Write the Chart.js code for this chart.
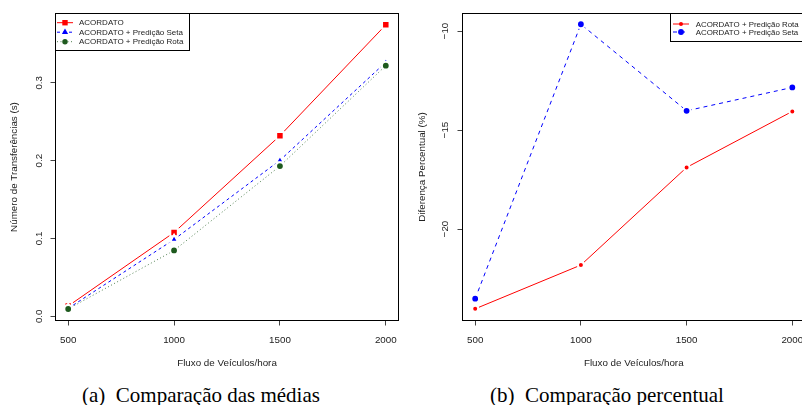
<!DOCTYPE html>
<html>
<head>
<meta charset="utf-8">
<script src="https://cdn.jsdelivr.net/npm/chart.js@4/dist/chart.umd.min.js"></script>
<style>
  html, body { margin: 0; padding: 0; background: #fff; }
  body { width: 802px; height: 405px; overflow: hidden; position: relative; }
  .plot { position: absolute; top: 0; height: 375px; }
  #medias { left: 0; width: 400px; }
  #percentual { left: 400px; width: 420px; }
  .caption {
    position: absolute; top: 384px; width: 400px; text-align: center;
    font-family: "Liberation Serif", "Times New Roman", serif; font-size: 21px;
    line-height: 22px; color: #000; white-space: pre;
  }
</style>
</head>
<body>
<div class="plot" id="medias"><canvas id="c1" width="400" height="375"></canvas></div>
<div class="plot" id="percentual"><canvas id="c2" width="420" height="375"></canvas></div>
<div class="caption" style="left:1px">(a)  Comparação das médias</div>
<div class="caption" style="left:407px">(b)  Comparação percentual</div>
<script>
// fluxo de veículos (eixo x, ambos os gráficos)
const fluxo = [500, 1000, 1500, 2000];

// (a) número médio de transferências
const mediaAcordato = [0.0132, 0.1077, 0.232, 0.3744];
const mediaSeta = [0.0102, 0.0987, 0.2004, 0.3264];
const mediaRota = [0.0094, 0.0846, 0.193, 0.322];
const ticksMedia = [0, 0.1, 0.2, 0.3];
const labelsMedia = ['0.0', '0.1', '0.2', '0.3'];

// (b) diferença percentual em relação ao ACORDATO
const difRota = [-24.03, -21.82, -16.89, -14.06];
const difSeta = [-23.52, -9.66, -14.03, -12.85];
const ticksDif = [-20, -15, -10];
const labelsDif = ['\u221220', '\u221215', '\u221210'];

const FONT = 'Liberation Sans, Arial, sans-serif';
const pts = (ys) => fluxo.map((x, i) => ({ x, y: ys[i] }));

function marker(ctx, style, x, y, r, color) {
  ctx.save();
  ctx.fillStyle = color;
  ctx.beginPath();
  if (style === 'rect') {
    const s = r * Math.SQRT1_2;
    ctx.rect(x - s, y - s, 2 * s, 2 * s);
  } else if (style === 'triangle') {
    ctx.moveTo(x, y - r);
    ctx.lineTo(x + r * 0.866, y + r * 0.5);
    ctx.lineTo(x - r * 0.866, y + r * 0.5);
    ctx.closePath();
  } else {
    ctx.arc(x, y, r, 0, Math.PI * 2);
  }
  ctx.fill();
  ctx.restore();
}

// box around the plot, tick labels (y rotated, R style) and the legend
const rBox = {
  id: 'rBox',
  afterDatasetsDraw(chart, args, o) {
    const { ctx, chartArea: a } = chart;
    const xs = chart.scales.x;
    const ys = chart.scales.y;
    ctx.save();
    ctx.strokeStyle = '#000';
    ctx.lineWidth = 1;
    ctx.strokeRect(a.left, a.top, a.right - a.left, a.bottom - a.top);

    ctx.fillStyle = '#222';
    ctx.font = o.tickSize + 'px ' + FONT;
    ctx.textAlign = 'center';
    ctx.textBaseline = 'alphabetic';
    fluxo.forEach((v) => {
      ctx.fillText(String(v), xs.getPixelForValue(v), o.labelY);
    });
    ctx.textBaseline = 'middle';
    o.yTicks.forEach((v, i) => {
      ctx.save();
      ctx.translate(o.labelX, ys.getPixelForValue(v));
      ctx.rotate(-Math.PI / 2);
      ctx.fillText(o.yLabels[i], 0, 0);
      ctx.restore();
    });

    const L = o.legend;
    ctx.fillStyle = '#fff';
    ctx.fillRect(L.x, L.y, L.w, L.h);
    ctx.strokeRect(L.x, L.y, L.w, L.h);
    ctx.font = L.size + 'px ' + FONT;
    ctx.textAlign = 'left';
    L.order.forEach((di, row) => {
      const ds = chart.data.datasets[di];
      const y = L.row0 + row * L.rowH;
      ctx.save();
      ctx.strokeStyle = ds.borderColor;
      ctx.lineWidth = 1;
      ctx.setLineDash(ds.borderDash || []);
      ctx.beginPath();
      ctx.moveTo(L.s0, y);
      ctx.lineTo(L.s1, y);
      ctx.stroke();
      ctx.restore();
      marker(ctx, ds.pointStyle, (L.s0 + L.s1) / 2, y, L.mr * ds.legendScale, ds.pointBackgroundColor);
      ctx.fillStyle = '#222';
      ctx.fillText(ds.label, L.tx, y + 0.5);
    });
    ctx.restore();
  }
};

function axes(xmin, xmax, ymin, ymax, yTitle, yWidth, yTitlePad) {
  return {
    x: {
      type: 'linear', min: xmin, max: xmax,
      afterBuildTicks: (s) => { s.ticks = fluxo.map(v => ({ value: v })); },
      afterFit: (s) => { s.height = 54.5; },
      grid: { drawOnChartArea: false, drawTicks: true, tickLength: 5, color: '#444' },
      border: { display: false },
      ticks: { display: false },
      title: { display: true, text: 'Fluxo de Veículos/hora', color: '#222',
               font: { family: FONT, size: 9.8 }, padding: { top: 0, bottom: 6.2 } }
    },
    y: {
      type: 'linear', min: ymin, max: ymax,
      afterBuildTicks: (s) => { s.ticks = s.options.rTicks.map(v => ({ value: v })); },
      afterFit: (s) => { s.width = yWidth; },
      grid: { drawOnChartArea: false, drawTicks: true, tickLength: 5, color: '#444' },
      border: { display: false },
      ticks: { display: false },
      title: { display: true, text: yTitle, color: '#222',
               font: { family: FONT, size: 9.8 }, padding: { top: yTitlePad, bottom: 0 } }
    }
  };
}

const common = {
  responsive: false,
  animation: false,
  events: [],
  plugins: { legend: { display: false }, tooltip: { enabled: false } }
};

// (a) Comparação das médias
const s1 = axes(440, 2060, -0.0054, 0.389, 'Número de Transferências (s)', 55.5, 8.2);
s1.y.rTicks = ticksMedia;
new Chart(document.getElementById('c1'), {
  type: 'line',
  data: {
    datasets: [
      { label: 'ACORDATO', data: pts(mediaAcordato), order: 3,
        borderColor: '#ff0000', borderWidth: 1, pointStyle: 'rect',
        pointRadius: 5.3, pointBackgroundColor: '#ff0000', pointBorderColor: '#fff',
        pointBorderWidth: 2, legendScale: 0.85 },
      { label: 'ACORDATO + Predição Seta', data: pts(mediaSeta), order: 2,
        borderColor: '#0000ff', borderWidth: 1, borderDash: [3, 3], pointStyle: 'triangle',
        pointRadius: 4.6, pointBackgroundColor: '#0000ff', pointBorderColor: '#fff',
        pointBorderWidth: 2, legendScale: 0.8 },
      { label: 'ACORDATO + Predição Rota', data: pts(mediaRota), order: 1,
        borderColor: '#4f7f4f', borderWidth: 1, borderDash: [1, 2.5], pointStyle: 'circle',
        pointRadius: 3.9, pointBackgroundColor: '#1e5a1e', pointBorderColor: '#fff',
        pointBorderWidth: 2, legendScale: 0.6 }
    ]
  },
  options: Object.assign({}, common, {
    layout: { autoPadding: false, padding: { top: 13.5, right: 1.5, left: 0, bottom: 0 } },
    scales: s1,
    plugins: Object.assign({}, common.plugins, {
      rBox: { yTicks: ticksMedia, yLabels: labelsMedia, labelX: 39, labelY: 342.5, tickSize: 9.8,
        legend: { x: 55.5, y: 13.5, w: 134, h: 37, row0: 22.7, rowH: 9.5,
                  s0: 57, s1: 73, tx: 79, size: 8, mr: 4.5, order: [0, 1, 2] } }
    })
  }),
  plugins: [rBox]
});

// (b) Comparação percentual
const s2 = axes(440, 2060, -24.62, -9.116, 'Diferença Percentual (%)', 62.5, 16.9);
s2.y.rTicks = ticksDif;
new Chart(document.getElementById('c2'), {
  type: 'line',
  data: {
    datasets: [
      { label: 'ACORDATO + Predição Rota', data: pts(difRota), order: 2,
        borderColor: '#ff0000', borderWidth: 1, pointStyle: 'circle',
        pointRadius: 3, pointBackgroundColor: '#ff0000', pointBorderColor: '#fff',
        pointBorderWidth: 2, legendScale: 0.45 },
      { label: 'ACORDATO + Predição Seta', data: pts(difSeta), order: 1,
        borderColor: '#0000ff', borderWidth: 1, borderDash: [4, 4], pointStyle: 'circle',
        pointRadius: 3.9, pointBackgroundColor: '#0000ff', pointBorderColor: '#fff',
        pointBorderWidth: 2, legendScale: 0.65 }
    ]
  },
  options: Object.assign({}, common, {
    layout: { autoPadding: false, padding: { top: 13.5, right: 15, left: 0, bottom: 0 } },
    scales: s2,
    plugins: Object.assign({}, common.plugins, {
      rBox: { yTicks: ticksDif, yLabels: labelsDif, labelX: 45.7, labelY: 342.5, tickSize: 9.8,
        legend: { x: 270.5, y: 13.5, w: 135, h: 28, row0: 24, rowH: 8,
                  s0: 273, s1: 289, tx: 295.7, size: 7.9, mr: 4.5, order: [0, 1] } }
    })
  }),
  plugins: [rBox]
});
</script>
</body>
</html>
